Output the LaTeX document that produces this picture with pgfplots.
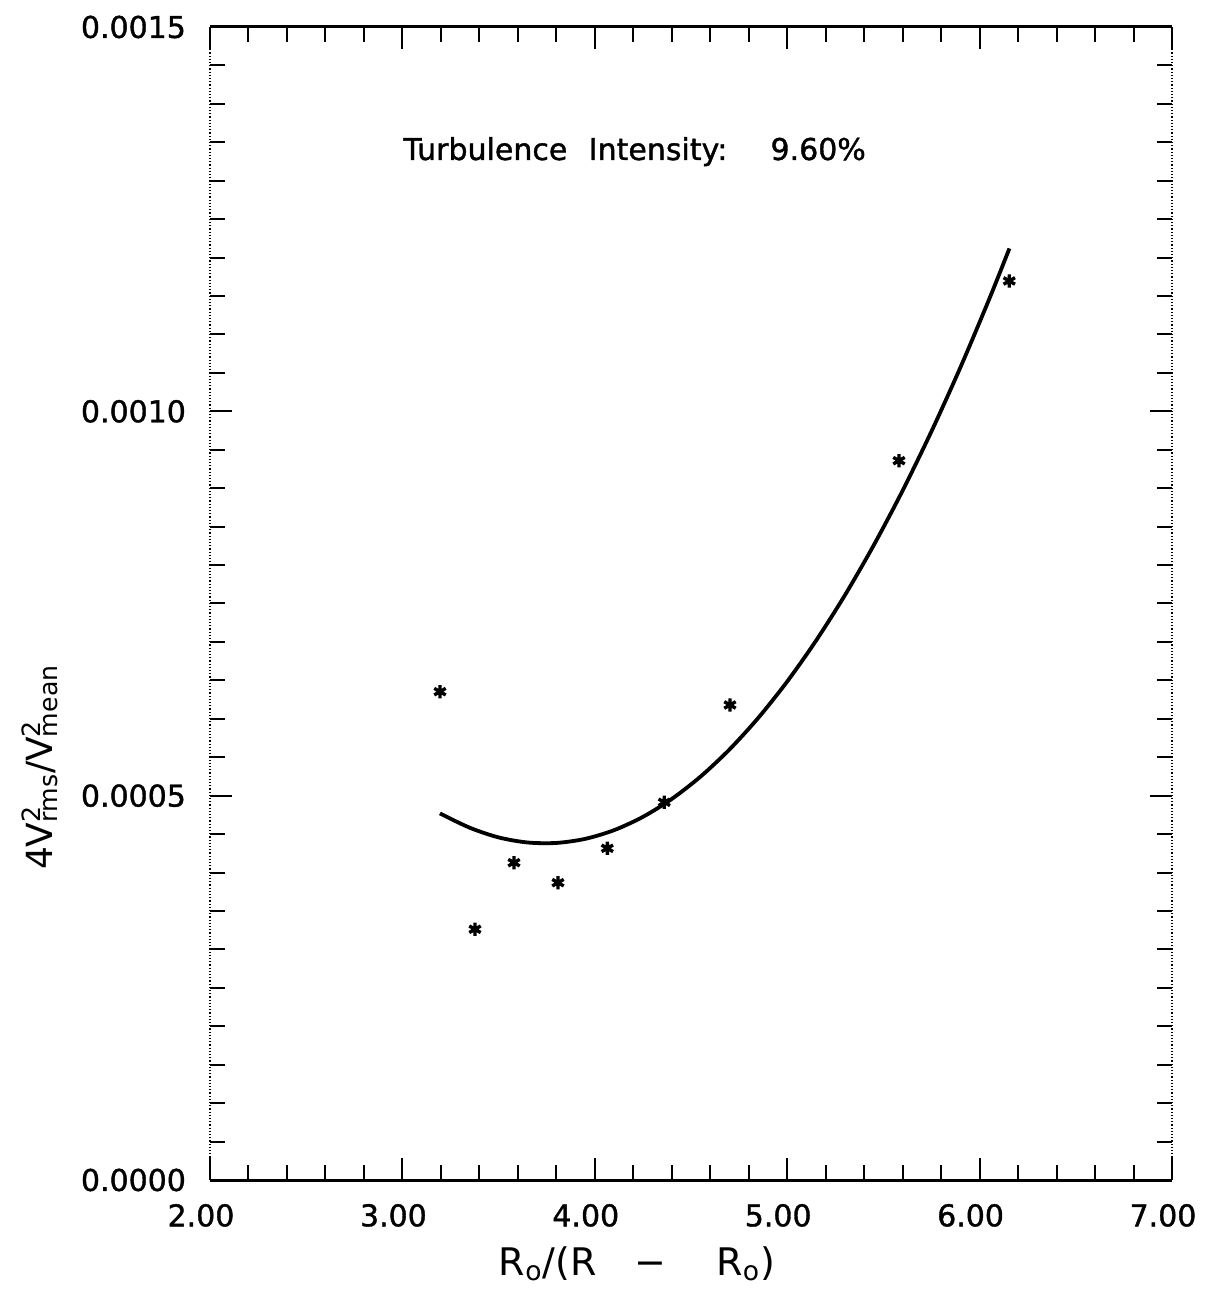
\documentclass[border=0pt]{standalone}
\usepackage{fontspec}
\setmainfont{DejaVu Sans}
\newfontfamily\tickfont{DejaVu Sans}[BoldFont={DejaVu Sans}, BoldFeatures={FakeBold=1.2}]
\usepackage{pgfplots}
\pgfplotsset{compat=1.18}
\newcommand{\supsub}[2]{\rlap{\textsuperscript{#1}}\textsubscript{#2}}
\begin{document}
\begin{tikzpicture}
\useasboundingbox (-105pt,-56pt) rectangle (500.5pt,590pt);
\begin{axis}[
  at={(0,0)}, anchor=south west,
  scale only axis, width=481pt, height=576.5pt,
  xmin=2, xmax=7, ymin=0, ymax=0.0015,
  xtick={2,3,4,5,6,7}, xticklabels={2.00,3.00,4.00,5.00,6.00,7.00},
  ytick={0,0.0005,0.001,0.0015}, yticklabels={0.0000,0.0005,0.0010,0.0015},
  scaled y ticks=false, scaled x ticks=false,
  minor x tick num=4, minor y tick num=9,
  tick align=inside, major tick length=11pt, minor tick length=7.5pt,
  every tick/.style={black, line width=1pt},
  separate axis lines,
  x axis line style={line width=1.5pt},
  y axis line style={line width=0.6pt, densely dotted},
  tick label style={font=\tickfont\bfseries\fontsize{15}{18}\selectfont},
  xticklabel style={xshift=-4.5pt, yshift=-8.5pt},
  yticklabel style={xshift=-8.5pt},
  xlabel={R\textsubscript{o}/(R\hspace{19pt}−\hspace{25pt}R\textsubscript{o})},
  xlabel style={font=\fontsize{19}{22}\selectfont, at={(axis description cs:0.4439,-0.0824)}, anchor=base},
  ylabel={4V\supsub{2}{rms}/V\supsub{2}{mean}},
  ylabel style={font=\fontsize{18}{21}\selectfont, at={(axis description cs:-0.177,0.358)}, anchor=center},
  clip=false,
]
\addplot[line width=1.9pt, smooth, no markers] coordinates {
(3.195,0.0004769) (3.35,0.0004583) (3.50,0.0004457) (3.65,0.0004391)
(3.80,0.0004385) (3.95,0.0004438) (4.10,0.0004551) (4.25,0.0004724)
(4.40,0.0004957) (4.55,0.0005249) (4.70,0.0005601) (4.85,0.0006013)
(5.00,0.0006485) (5.15,0.0007017) (5.30,0.0007608) (5.45,0.0008259)
(5.60,0.0008969) (5.75,0.0009740) (5.90,0.0010570) (6.05,0.0011460)
(6.155,0.0012119)
};
\addplot[only marks, mark=asterisk, mark size=3.3pt, line width=1.7pt] coordinates {
(3.1954,0.0006353) (3.3773,0.0003262) (3.5800,0.0004128) (3.8087,0.0003868)
(4.0650,0.0004315) (4.3612,0.0004914) (4.7027,0.0006180) (5.5811,0.0009358)
(6.1544,0.0011696)
};
\node[anchor=base west, font=\tickfont\bfseries\fontsize{15}{18}\selectfont, inner sep=0pt] at (axis cs:3.003,0.001327)
  {Turbulence\hspace{10.75pt}Intensity:\hspace{21.6pt}9.60\%};
\end{axis}
\end{tikzpicture}
\end{document}
